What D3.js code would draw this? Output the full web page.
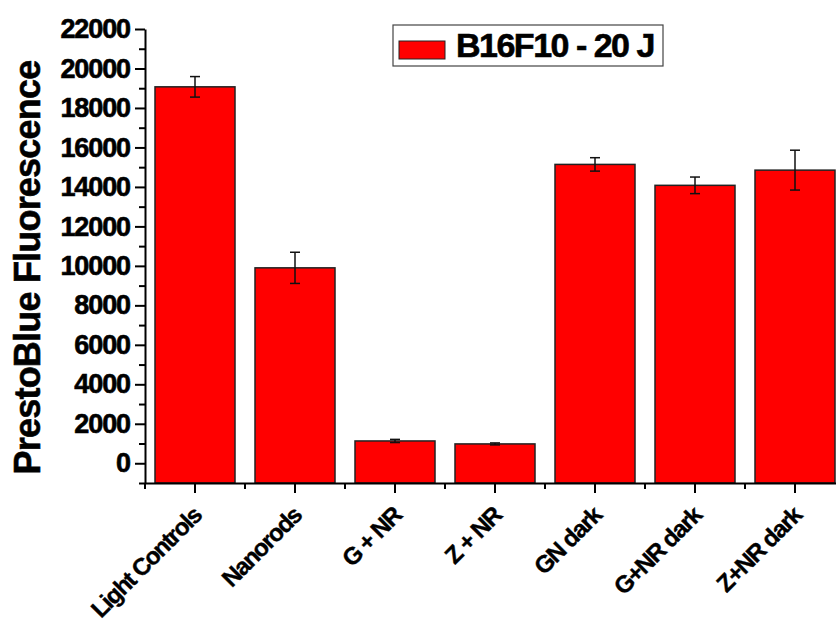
<!DOCTYPE html>
<html>
<head>
<meta charset="utf-8">
<script src="https://cdn.jsdelivr.net/npm/d3@7"></script>
<style>
  body { margin: 0; background: #fff; }
  text { font-family: "Liberation Sans", Arial, sans-serif; font-weight: bold; }
</style>
</head>
<body>
<script>
// Data
const categories = ["Light Controls", "Nanorods", "G + NR", "Z + NR", "GN dark", "G+NR dark", "Z+NR dark"];
const means = [19070, 9900, 1130, 980, 15140, 14080, 14850];
const errors = [520, 790, 80, 50, 340, 420, 1010];
const yTicks = [0, 2000, 4000, 6000, 8000, 10000, 12000, 14000, 16000, 18000, 20000, 22000];
const legendLabel = "B16F10 - 20 J";
const yTitle = "PrestoBlue Fluorescence";

const width = 836, height = 623;
const plotLeft = 145, plotRight = 845, plotTop = 29, plotBottom = 483;

const svg = d3.select("body").append("svg")
    .attr("width", width)
    .attr("height", height);

// scales
const x = d3.scaleBand()
    .domain(categories)
    .range([plotLeft, plotRight])
    .paddingInner(0.2)
    .paddingOuter(0.1);

const y = d3.scaleLinear()
    .domain([-1000, 22000])
    .range([plotBottom, plotTop]);

// bars (Origin style, drawn up from the axis floor)
svg.selectAll("rect.bar")
    .data(categories)
    .enter().append("rect")
    .attr("class", "bar")
    .attr("x", d => x(d))
    .attr("width", x.bandwidth())
    .attr("y", (d, i) => y(means[i]))
    .attr("height", (d, i) => y(-1000) - y(means[i]))
    .attr("fill", "#ff0000")
    .attr("stroke", "#222")
    .attr("stroke-width", 1.5);

// error bars
const eb = svg.selectAll("g.err")
    .data(categories)
    .enter().append("g")
    .attr("class", "err")
    .attr("stroke", "#111")
    .attr("stroke-width", 1.5);

const cx = d => x(d) + x.bandwidth() / 2;
eb.append("line")
    .attr("x1", cx).attr("x2", cx)
    .attr("y1", (d, i) => y(means[i] + errors[i]))
    .attr("y2", (d, i) => y(means[i] - errors[i]));
eb.append("line")
    .attr("x1", d => cx(d) - 5).attr("x2", d => cx(d) + 5)
    .attr("y1", (d, i) => y(means[i] + errors[i]))
    .attr("y2", (d, i) => y(means[i] + errors[i]));
eb.append("line")
    .attr("x1", d => cx(d) - 5).attr("x2", d => cx(d) + 5)
    .attr("y1", (d, i) => y(means[i] - errors[i]))
    .attr("y2", (d, i) => y(means[i] - errors[i]));

// y axis
const yAxis = svg.append("g")
    .attr("transform", `translate(${plotLeft},0)`)
    .call(d3.axisLeft(y).tickValues(yTicks).tickFormat(d3.format("d"))
        .tickSize(10).tickSizeOuter(0).tickPadding(5));
svg.append("g")
    .attr("transform", `translate(${plotLeft},0)`)
    .call(d3.axisLeft(y).tickValues(d3.range(-1000, 22000, 2000)).tickSize(6).tickFormat(""))
    .call(g => g.select(".domain").remove());

yAxis.select(".domain").attr("stroke-width", 2);
svg.selectAll(".tick line").attr("stroke-width", 2);
yAxis.selectAll(".tick text")
    .attr("font-size", 27)
    .attr("letter-spacing", -1.1)
    .attr("fill", "#000")
    .attr("stroke", "#000")
    .attr("stroke-width", 0.6);

// x axis
const xAxis = svg.append("g")
    .attr("transform", `translate(0,${plotBottom})`)
    .call(d3.axisBottom(x).tickSize(10).tickSizeOuter(0).tickFormat(""));
xAxis.select(".domain").attr("stroke-width", 2);
xAxis.selectAll(".tick line").attr("stroke-width", 2);

// minor x ticks at band boundaries
svg.append("g").selectAll("line")
    .data(categories)
    .enter().append("line")
    .attr("x1", d => x(d) - 10).attr("x2", d => x(d) - 10)
    .attr("y1", plotBottom).attr("y2", plotBottom + 6)
    .attr("stroke", "#000")
    .attr("stroke-width", 2);

// rotated category labels
svg.append("g").selectAll("text")
    .data(categories)
    .enter().append("text")
    .attr("transform", d => `translate(${cx(d) + 8},${plotBottom + 34}) rotate(-45)`)
    .attr("text-anchor", "end")
    .attr("font-size", 24)
    .attr("letter-spacing", -1.4)
    .attr("stroke", "#000")
    .attr("stroke-width", 0.4)
    .text(d => d);

// y title
svg.append("text")
    .attr("transform", `translate(40,${(62 + 473) / 2}) rotate(-90)`)
    .attr("text-anchor", "middle")
    .attr("font-size", 36)
    .attr("letter-spacing", -0.8)
    .attr("stroke", "#000")
    .attr("stroke-width", 0.6)
    .text(yTitle);

// legend
const lg = svg.append("g");
lg.append("rect")
    .attr("x", 393).attr("y", 25)
    .attr("width", 270).attr("height", 41)
    .attr("fill", "#fff")
    .attr("stroke", "#444")
    .attr("stroke-width", 1.2);
lg.append("rect")
    .attr("x", 399).attr("y", 41)
    .attr("width", 46).attr("height", 18)
    .attr("fill", "#ff0000")
    .attr("stroke", "#222")
    .attr("stroke-width", 1);
lg.append("text")
    .attr("x", 456).attr("y", 57)
    .attr("font-size", 34)
    .attr("letter-spacing", -1.5)
    .attr("stroke", "#000")
    .attr("stroke-width", 0.6)
    .text(legendLabel);
</script>
</body>
</html>
